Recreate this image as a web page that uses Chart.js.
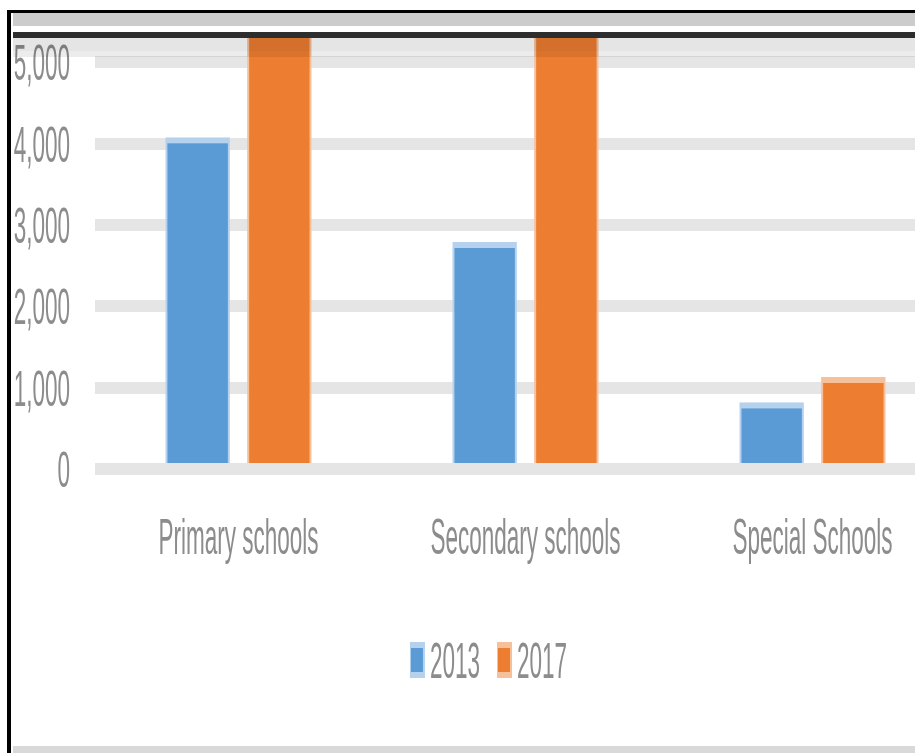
<!DOCTYPE html>
<html>
<head>
<meta charset="utf-8">
<title>Schools 2013 / 2017</title>
<script src="https://cdn.jsdelivr.net/npm/chart.js@4.4.0/dist/chart.umd.min.js"></script>
<style>
  html, body { margin: 0; padding: 0; width: 915px; height: 753px; overflow: hidden; background: #fff; }
  .deco { position: absolute; pointer-events: none; }
  #frame-left { left: 7px; top: 10px; width: 4px; height: 760px; background: #000; }
  #frame-top { left: 7px; top: 10px; width: 930px; height: 3px; background: #000; }
  #band-grey { left: 13px; top: 13px; width: 920px; height: 13px; background: #cccccc; }
  #band-dark { left: 13px; top: 32px; width: 920px; height: 6px; background: #2d2d2d; }
  #band-shade { left: 13px; top: 38px; width: 920px; height: 19px;
    background: linear-gradient(to bottom, rgba(0,0,0,0.1) 0, rgba(0,0,0,0.1) 13px, rgba(0,0,0,0.075) 13px, rgba(0,0,0,0.075) 19px); z-index: 2; }
  #band-bottom { left: 13px; top: 746px; width: 920px; height: 7px; background: #d9d9d9; }
  #wrap { position: absolute; left: 13px; top: 38px; width: 943px; height: 715px; }
</style>
</head>
<body>
<div class="deco" id="frame-left"></div>
<div class="deco" id="frame-top"></div>
<div class="deco" id="band-grey"></div>
<div class="deco" id="band-dark"></div>
<div id="wrap"><canvas id="myChart"></canvas></div>
<div class="deco" id="band-shade"></div>
<div class="deco" id="band-bottom"></div>

<script>
const categories = ['Primary schools', 'Secondary schools', 'Special Schools'];
const seriesNames = ['2013', '2017'];
const values2013 = [4080, 2790, 820];
const values2017 = [5400, 5400, 1130];
const yTicks = [0, 1000, 2000, 3000, 4000, 5000];
const yTickLabels = ['0', '1,000', '2,000', '3,000', '4,000', '5,000'];

const TEXT_COLOR = '#8c8c8c';
const SQUEEZE = 0.45;   // the source text is very narrow
const FONT = '50px "Liberation Sans", Arial, sans-serif';

// --- Helpers ---

function drawSqueezed(ctx, text, x, y, align) {
    ctx.save();
    ctx.translate(x, y);
    ctx.scale(SQUEEZE, 1);
    ctx.textAlign = align;
    ctx.fillText(text, 0, 0);
    ctx.restore();
}

// labels, categories and legend are drawn here so they can be squeezed
const squeezedText = {
    id: 'squeezedText',
    afterDraw(chart) {
        const ctx = chart.ctx;
        const yScale = chart.scales.y;
        const xScale = chart.scales.x;

        ctx.save();
        ctx.fillStyle = TEXT_COLOR;
        ctx.font = FONT;
        ctx.textBaseline = 'alphabetic';

        // y tick labels
        yTicks.forEach((v, i) => {
            drawSqueezed(ctx, yTickLabels[i], 57, yScale.getPixelForValue(v) + 18, 'right');
        });

        // category labels
        categories.forEach((c, i) => {
            drawSqueezed(ctx, c, xScale.getPixelForValue(i), 516, 'center');
        });

        // legend
        const boxW = 15, gapBox = 5, gapItem = 17;
        const widths = seriesNames.map(n => ctx.measureText(n).width * SQUEEZE);
        const total = widths.reduce((s, w) => s + boxW + gapBox + w, 0) + gapItem * (seriesNames.length - 1);
        let lx = chart.width / 2 + 4 - total / 2;
        chart.data.datasets.forEach((ds, i) => {
            ctx.fillStyle = ds.borderColor;
            ctx.fillRect(lx, 604, boxW, 36);
            ctx.fillStyle = ds.backgroundColor;
            ctx.fillRect(lx + 1, 610, boxW - 3, 24);
            ctx.fillStyle = TEXT_COLOR;
            drawSqueezed(ctx, seriesNames[i], lx + boxW + gapBox, 640, 'left');
            lx += boxW + gapBox + widths[i] + gapItem;
        });
        ctx.restore();
    }
};

const ctx = document.getElementById('myChart').getContext('2d');
new Chart(ctx, {
    type: 'bar',
    data: {
        labels: categories,
        datasets: [{
            label: seriesNames[0],
            data: values2013,
            backgroundColor: '#5b9bd5',
            borderColor: '#b5d1ee',
            borderWidth: { top: 6, left: 2, right: 2, bottom: 0 },
            borderSkipped: false
        }, {
            label: seriesNames[1],
            data: values2017,
            backgroundColor: '#ed7d31',
            borderColor: '#f6c09b',
            borderWidth: { top: 6, left: 2, right: 2, bottom: 0 },
            borderSkipped: false
        }]
    },
    options: {
        responsive: true,
        maintainAspectRatio: false,
        devicePixelRatio: 1,
        animation: false,
        categoryPercentage: 0.57,
        barPercentage: 0.79,
        layout: { padding: 0 },
        plugins: {
            legend: { display: false },
            tooltip: { enabled: false }
        },
        scales: {
            x: {
                grid: { display: false },
                border: { display: false },
                ticks: { display: false },
                afterFit(scale) { scale.height = 284; }
            },
            y: {
                min: 0,
                max: 5300,
                z: 1,
                afterBuildTicks(scale) { scale.ticks = yTicks.map(v => ({ value: v })); },
                grid: { color: 'rgba(0,0,0,0.1)', lineWidth: 12, drawTicks: false },
                border: { display: false },
                ticks: { display: false },
                afterFit(scale) { scale.width = 82; }
            }
        }
    },
    plugins: [squeezedText]
});
</script>
</body>
</html>
